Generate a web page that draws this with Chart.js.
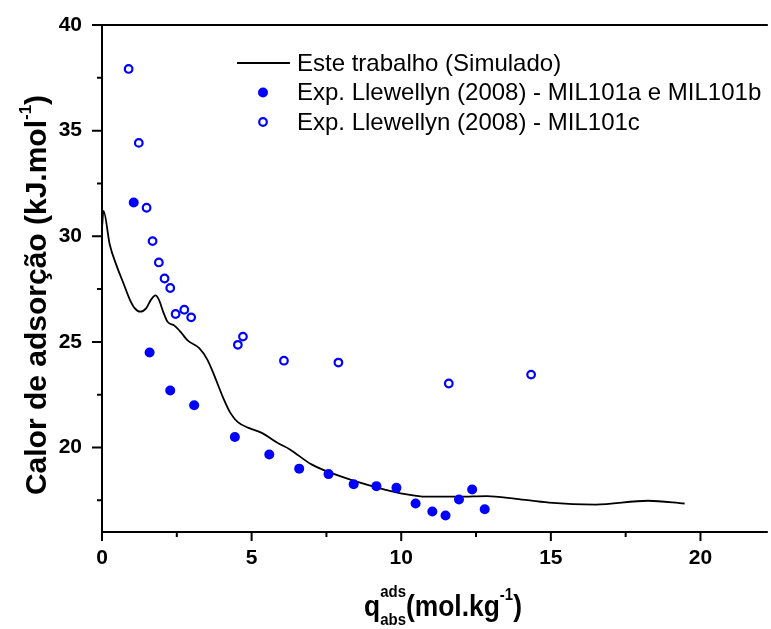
<!DOCTYPE html>
<html>
<head>
<meta charset="utf-8">
<script src="https://cdn.jsdelivr.net/npm/chart.js@4.4.0/dist/chart.umd.min.js"></script>
<style>
  html, body { margin: 0; padding: 0; background: #fff; }
  #wrap { width: 771px; height: 629px; }
</style>
</head>
<body>
<div id="wrap"><canvas id="heatChart" width="771" height="629"></canvas></div>
<script>
// Simulated curve (this work)
const simQ    = [0, 0.05, 0.26, 0.49, 0.71, 0.93, 1.09, 1.28, 1.48, 1.64, 1.79, 1.90, 2.05, 2.19, 2.42, 2.64, 2.86, 3.25, 3.52, 3.74, 3.93, 4.05, 4.29, 4.54, 4.90, 5.34, 5.89, 6.28, 7.0, 8.1, 9.2, 9.98, 10.86, 11.96, 12.85, 13.84, 14.94, 16.49, 18.25, 19.47];
const simHeat = [30.4, 31.2, 29.6, 28.6, 27.8, 27.0, 26.6, 26.43, 26.6, 27.0, 27.2, 27.0, 26.4, 25.95, 25.77, 25.45, 25.07, 24.7, 24.16, 23.45, 22.77, 22.35, 21.64, 21.2, 20.93, 20.69, 20.2, 19.91, 19.2, 18.57, 18.1, 17.83, 17.67, 17.67, 17.7, 17.57, 17.39, 17.3, 17.48, 17.35];

// Llewellyn (2008) - MIL101a e MIL101b (filled)
const milAbQ    = [1.06, 1.59, 2.28, 3.08, 4.44, 5.59, 6.59, 7.57, 8.41, 9.17, 9.84, 10.48, 11.04, 11.48, 11.93, 12.37, 12.79];
const milAbHeat = [31.6, 24.5, 22.7, 22.0, 20.5, 19.67, 19.0, 18.74, 18.26, 18.17, 18.09, 17.35, 16.97, 16.78, 17.54, 18.01, 17.08];

// Llewellyn (2008) - MIL101c (open)
const milCQ    = [0.89, 1.23, 1.49, 1.69, 1.90, 2.09, 2.28, 2.46, 2.75, 2.98, 4.54, 4.71, 6.08, 7.90, 11.59, 14.34];
const milCHeat = [37.92, 34.42, 31.35, 29.77, 28.76, 28.0, 27.55, 26.32, 26.52, 26.16, 24.86, 25.25, 24.11, 24.02, 23.03, 23.45];

// axis ticks
const xTicks = [0, 5, 10, 15, 20];
const xMinor = [2.5, 7.5, 12.5, 17.5];
const yTicks = [20, 25, 30, 35, 40];
const yMinor = [17.5, 22.5, 27.5, 32.5, 37.5];

const legendLabels = [
    'Este trabalho (Simulado)',
    'Exp. Llewellyn (2008) - MIL101a e MIL101b',
    'Exp. Llewellyn (2008) - MIL101c'
];

const BLUE = '#0000ff';
const toPoints = (xs, ys) => xs.map((v, i) => ({ x: v, y: ys[i] }));

// draws text runs with super/subscripts; a part with keep:true does not advance x
function drawRich(ctx, parts, x, y, family, squeeze) {
    squeeze = squeeze || 1;
    let total = 0, held = 0;
    parts.forEach(p => {
        ctx.font = 'bold ' + p.s + 'px ' + family;
        p.w = ctx.measureText(p.t).width;
        if (p.keep) { held = p.w; return; }
        total += Math.max(p.w, held);
        held = 0;
    });
    ctx.save();
    ctx.translate(x, y);
    ctx.scale(squeeze, 1);
    let cx = -total / 2;
    held = 0;
    ctx.textAlign = 'left';
    ctx.textBaseline = 'alphabetic';
    parts.forEach(p => {
        ctx.font = 'bold ' + p.s + 'px ' + family;
        ctx.fillText(p.t, cx, p.dy);
        if (p.keep) { held = p.w; return; }
        cx += Math.max(p.w, held);
        held = 0;
    });
    ctx.restore();
}

const framePlugin = {
    id: 'frame',
    afterDraw(chart) {
        const { ctx, chartArea: a, scales: { x, y } } = chart;
        ctx.save();
        ctx.strokeStyle = '#000';
        ctx.lineWidth = 2;
        ctx.lineCap = 'square';
        ctx.beginPath();
        ctx.moveTo(a.left, a.top);
        ctx.lineTo(a.left, a.bottom);
        ctx.lineTo(a.right + 2, a.bottom);
        ctx.moveTo(a.left, a.top);
        ctx.lineTo(a.right + 2, a.top);
        ctx.stroke();

        ctx.lineCap = 'butt';
        ctx.beginPath();
        xTicks.forEach(v => { const p = x.getPixelForValue(v); ctx.moveTo(p, a.bottom); ctx.lineTo(p, a.bottom + 9); });
        xMinor.forEach(v => { const p = x.getPixelForValue(v); ctx.moveTo(p, a.bottom); ctx.lineTo(p, a.bottom + 5); });
        yTicks.forEach(v => { const p = y.getPixelForValue(v); ctx.moveTo(a.left, p); ctx.lineTo(a.left - 10, p); });
        yMinor.forEach(v => { const p = y.getPixelForValue(v); ctx.moveTo(a.left, p); ctx.lineTo(a.left - 5, p); });
        ctx.stroke();

        // legend
        const lx = a.left + 135, ly = a.top + 38, gap = 29.5;
        ctx.lineWidth = 1.8;
        ctx.beginPath();
        ctx.moveTo(lx, ly);
        ctx.lineTo(lx + 53, ly);
        ctx.stroke();
        ctx.fillStyle = BLUE;
        ctx.beginPath();
        ctx.arc(lx + 26, ly + gap, 5, 0, Math.PI * 2);
        ctx.fill();
        ctx.strokeStyle = BLUE;
        ctx.lineWidth = 2.2;
        ctx.beginPath();
        ctx.arc(lx + 26, ly + gap * 2, 3.8, 0, Math.PI * 2);
        ctx.stroke();
        ctx.fillStyle = '#000';
        ctx.font = '24px "Liberation Sans", Arial, sans-serif';
        ctx.textAlign = 'left';
        ctx.textBaseline = 'middle';
        legendLabels.forEach((t, i) => ctx.fillText(t, lx + 60, ly + gap * i + 1));

        // axis titles
        ctx.fillStyle = '#000';
        drawRich(ctx, [
            { t: 'q', s: 30, dy: 0 },
            { t: 'ads', s: 17, dy: -19, keep: true },
            { t: 'abs', s: 17, dy: 9 },
            { t: '(mol.kg', s: 30, dy: 0 },
            { t: '-1', s: 17, dy: -16 },
            { t: ')', s: 30, dy: 0 }
        ], 443, 616, '"Liberation Sans", Arial, sans-serif', 0.88);

        ctx.translate(46, 295);
        ctx.rotate(-Math.PI / 2);
        drawRich(ctx, [
            { t: 'Calor de adsorção (kJ.mol', s: 30, dy: 0 },
            { t: '-1', s: 17, dy: -15 },
            { t: ')', s: 30, dy: 0 }
        ], 0, 0, '"Liberation Sans", Arial, sans-serif', 1);
        ctx.restore();
    }
};

const tickFont = { family: '"Liberation Sans", Arial, sans-serif', size: 21, weight: 'bold' };

new Chart(document.getElementById('heatChart'), {
    type: 'scatter',
    data: {
        datasets: [
            {
                label: legendLabels[1],
                data: toPoints(milAbQ, milAbHeat),
                pointRadius: 5,
                pointBackgroundColor: BLUE,
                pointBorderWidth: 0,
                showLine: false
            },
            {
                label: legendLabels[2],
                data: toPoints(milCQ, milCHeat),
                pointRadius: 3.8,
                pointBackgroundColor: '#fff',
                pointBorderColor: BLUE,
                pointBorderWidth: 2.2,
                showLine: false
            },
            {
                label: legendLabels[0],
                data: toPoints(simQ, simHeat),
                showLine: true,
                borderColor: '#000',
                borderWidth: 1.8,
                pointRadius: 0,
                cubicInterpolationMode: 'monotone'
            }
        ]
    },
    options: {
        responsive: false,
        animation: false,
        devicePixelRatio: 1,
        layout: { padding: { top: 25, right: 0, left: 0, bottom: 0 } },
        plugins: {
            legend: { display: false },
            tooltip: { enabled: false }
        },
        scales: {
            x: {
                type: 'linear',
                min: 0,
                max: 22.15,
                grid: { display: false, drawTicks: false },
                border: { display: false },
                afterBuildTicks: s => { s.ticks = xTicks.map(v => ({ value: v })); },
                afterFit: s => { s.height = 97; s.paddingLeft = 0; s.paddingRight = 0; },
                ticks: { font: tickFont, color: '#000', padding: 14, maxRotation: 0 }
            },
            y: {
                type: 'linear',
                min: 16,
                max: 40,
                grid: { display: false, drawTicks: false },
                border: { display: false },
                afterBuildTicks: s => { s.ticks = yTicks.map(v => ({ value: v })); },
                afterFit: s => { s.width = 102; s.paddingTop = 0; s.paddingBottom = 0; },
                ticks: { font: tickFont, color: '#000', padding: 20 }
            }
        }
    },
    plugins: [framePlugin]
});
</script>
</body>
</html>
